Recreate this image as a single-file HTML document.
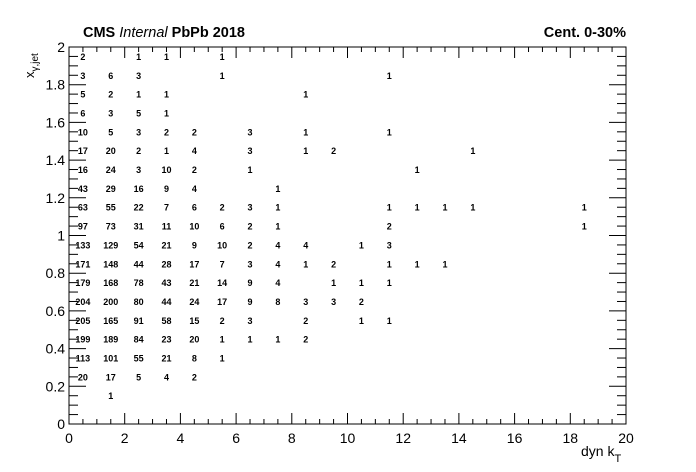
<!DOCTYPE html>
<html><head><meta charset="utf-8"><style>
html,body{margin:0;padding:0;background:#fff;}
svg{display:block;font-family:"Liberation Sans",Arial,sans-serif;}
</style></head><body>
<svg id="chart" width="696" height="472" viewBox="0 0 696 472" xmlns="http://www.w3.org/2000/svg">
<rect width="696" height="472" fill="#fff"/>
<text x="83" y="37" font-size="14.5" font-weight="bold">CMS <tspan font-style="italic" font-weight="normal">Internal</tspan> PbPb 2018</text>
<text x="626" y="37" font-size="14.5" font-weight="bold" text-anchor="end">Cent. 0-30%</text>
<text x="581" y="456" font-size="14">dyn k<tspan font-size="11" dy="6">T</tspan></text>
<text transform="translate(34,78) rotate(-90)" font-size="13">x<tspan font-size="10" dy="4">γ,jet</tspan></text>
<g id="axes"></g>
<g id="cells"></g>
</svg>
<script>
const xTickLabels=["0","2","4","6","8","10","12","14","16","18","20"];
const yTickLabels=["0","0.2","0.4","0.6","0.8","1","1.2","1.4","1.6","1.8","2"];
const cellX=[0.5,2.5,3.5,5.5, 0.5,1.5,2.5,5.5,11.5, 0.5,1.5,2.5,3.5,8.5, 0.5,1.5,2.5,3.5,
0.5,1.5,2.5,3.5,4.5,6.5,8.5,11.5, 0.5,1.5,2.5,3.5,4.5,6.5,8.5,9.5,14.5, 0.5,1.5,2.5,3.5,4.5,6.5,12.5,
0.5,1.5,2.5,3.5,4.5,7.5, 0.5,1.5,2.5,3.5,4.5,5.5,6.5,7.5,11.5,12.5,13.5,14.5,18.5,
0.5,1.5,2.5,3.5,4.5,5.5,6.5,7.5,11.5,18.5, 0.5,1.5,2.5,3.5,4.5,5.5,6.5,7.5,8.5,10.5,11.5,
0.5,1.5,2.5,3.5,4.5,5.5,6.5,7.5,8.5,9.5,11.5,12.5,13.5, 0.5,1.5,2.5,3.5,4.5,5.5,6.5,7.5,9.5,10.5,11.5,
0.5,1.5,2.5,3.5,4.5,5.5,6.5,7.5,8.5,9.5,10.5, 0.5,1.5,2.5,3.5,4.5,5.5,6.5,8.5,10.5,11.5,
0.5,1.5,2.5,3.5,4.5,5.5,6.5,7.5,8.5, 0.5,1.5,2.5,3.5,4.5,5.5, 0.5,1.5,2.5,3.5,4.5, 1.5];
const cellY=[1.95,1.95,1.95,1.95, 1.85,1.85,1.85,1.85,1.85, 1.75,1.75,1.75,1.75,1.75, 1.65,1.65,1.65,1.65,
1.55,1.55,1.55,1.55,1.55,1.55,1.55,1.55, 1.45,1.45,1.45,1.45,1.45,1.45,1.45,1.45,1.45, 1.35,1.35,1.35,1.35,1.35,1.35,1.35,
1.25,1.25,1.25,1.25,1.25,1.25, 1.15,1.15,1.15,1.15,1.15,1.15,1.15,1.15,1.15,1.15,1.15,1.15,1.15,
1.05,1.05,1.05,1.05,1.05,1.05,1.05,1.05,1.05,1.05, 0.95,0.95,0.95,0.95,0.95,0.95,0.95,0.95,0.95,0.95,0.95,
0.85,0.85,0.85,0.85,0.85,0.85,0.85,0.85,0.85,0.85,0.85,0.85,0.85, 0.75,0.75,0.75,0.75,0.75,0.75,0.75,0.75,0.75,0.75,0.75,
0.65,0.65,0.65,0.65,0.65,0.65,0.65,0.65,0.65,0.65,0.65, 0.55,0.55,0.55,0.55,0.55,0.55,0.55,0.55,0.55,0.55,
0.45,0.45,0.45,0.45,0.45,0.45,0.45,0.45,0.45, 0.35,0.35,0.35,0.35,0.35,0.35, 0.25,0.25,0.25,0.25,0.25, 0.15];
const cellCount=[2,1,1,1, 3,6,3,1,1, 5,2,1,1,1, 6,3,5,1,
10,5,3,2,2,3,1,1, 17,20,2,1,4,3,1,2,1, 16,24,3,10,2,1,1,
43,29,16,9,4,1, 63,55,22,7,6,2,3,1,1,1,1,1,1,
97,73,31,11,10,6,2,1,2,1, 133,129,54,21,9,10,2,4,4,1,3,
171,148,44,28,17,7,3,4,1,2,1,1,1, 179,168,78,43,21,14,9,4,1,1,1,
204,200,80,44,24,17,9,8,3,3,2, 205,165,91,58,15,2,3,2,1,1,
199,189,84,23,20,1,1,1,2, 113,101,55,21,8,1, 20,17,5,4,2, 1];

const X0=69,X1=626,Y0=424,Y1=47;
const sx=v=>X0+(v-0)/(20-0)*(X1-X0);
const sy=v=>Y0-(v-0)/(2-0)*(Y0-Y1);
const NS="http://www.w3.org/2000/svg";
const axes=document.getElementById('axes');
const cells=document.getElementById('cells');
function line(x1,y1,x2,y2){const l=document.createElementNS(NS,'line');
l.setAttribute('x1',x1);l.setAttribute('y1',y1);l.setAttribute('x2',x2);l.setAttribute('y2',y2);
l.setAttribute('stroke','#000');l.setAttribute('stroke-width','1');axes.appendChild(l);return l;}
const frame=document.createElementNS(NS,'rect');
frame.setAttribute('x',X0);frame.setAttribute('y',Y1);frame.setAttribute('width',X1-X0);frame.setAttribute('height',Y0-Y1);
frame.setAttribute('fill','none');frame.setAttribute('stroke','#000');


axes.appendChild(frame);
for(let i=0;i<=40;i++){const v=i*0.5,x=sx(v),len=(i%4===0)?11:5;
 line(x,Y0,x,Y0-len);line(x,Y1,x,Y1+len);}
for(let i=0;i<=40;i++){const v=i*0.05,y=sy(v),len=(i%4===0)?17:9;
 line(X0,y,X0+len,y);line(X1,y,X1-len,y);}
xTickLabels.forEach(s=>{const t=document.createElementNS(NS,'text');
 t.setAttribute('x',sx(+s));t.setAttribute('y',Y0+19);t.setAttribute('font-size','14');t.setAttribute('text-anchor','middle');
 t.textContent=s;
 
 
 axes.appendChild(t);});
yTickLabels.forEach(s=>{const t=document.createElementNS(NS,'text');
 t.setAttribute('x',X0-4);t.setAttribute('y',sy(+s)+5);t.setAttribute('font-size','14');t.setAttribute('text-anchor','end');
 t.textContent=s;
 
 
 axes.appendChild(t);});
for(let i=0;i<cellCount.length;i++){const t=document.createElementNS(NS,'text');
 t.setAttribute('x',sx(cellX[i]));t.setAttribute('y',sy(cellY[i])+3.5);
 t.setAttribute('font-size','9');t.setAttribute('font-weight','bold');t.setAttribute('text-anchor','middle');
 t.textContent=cellCount[i];
 
 
 cells.appendChild(t);}
</script>
</body></html>
